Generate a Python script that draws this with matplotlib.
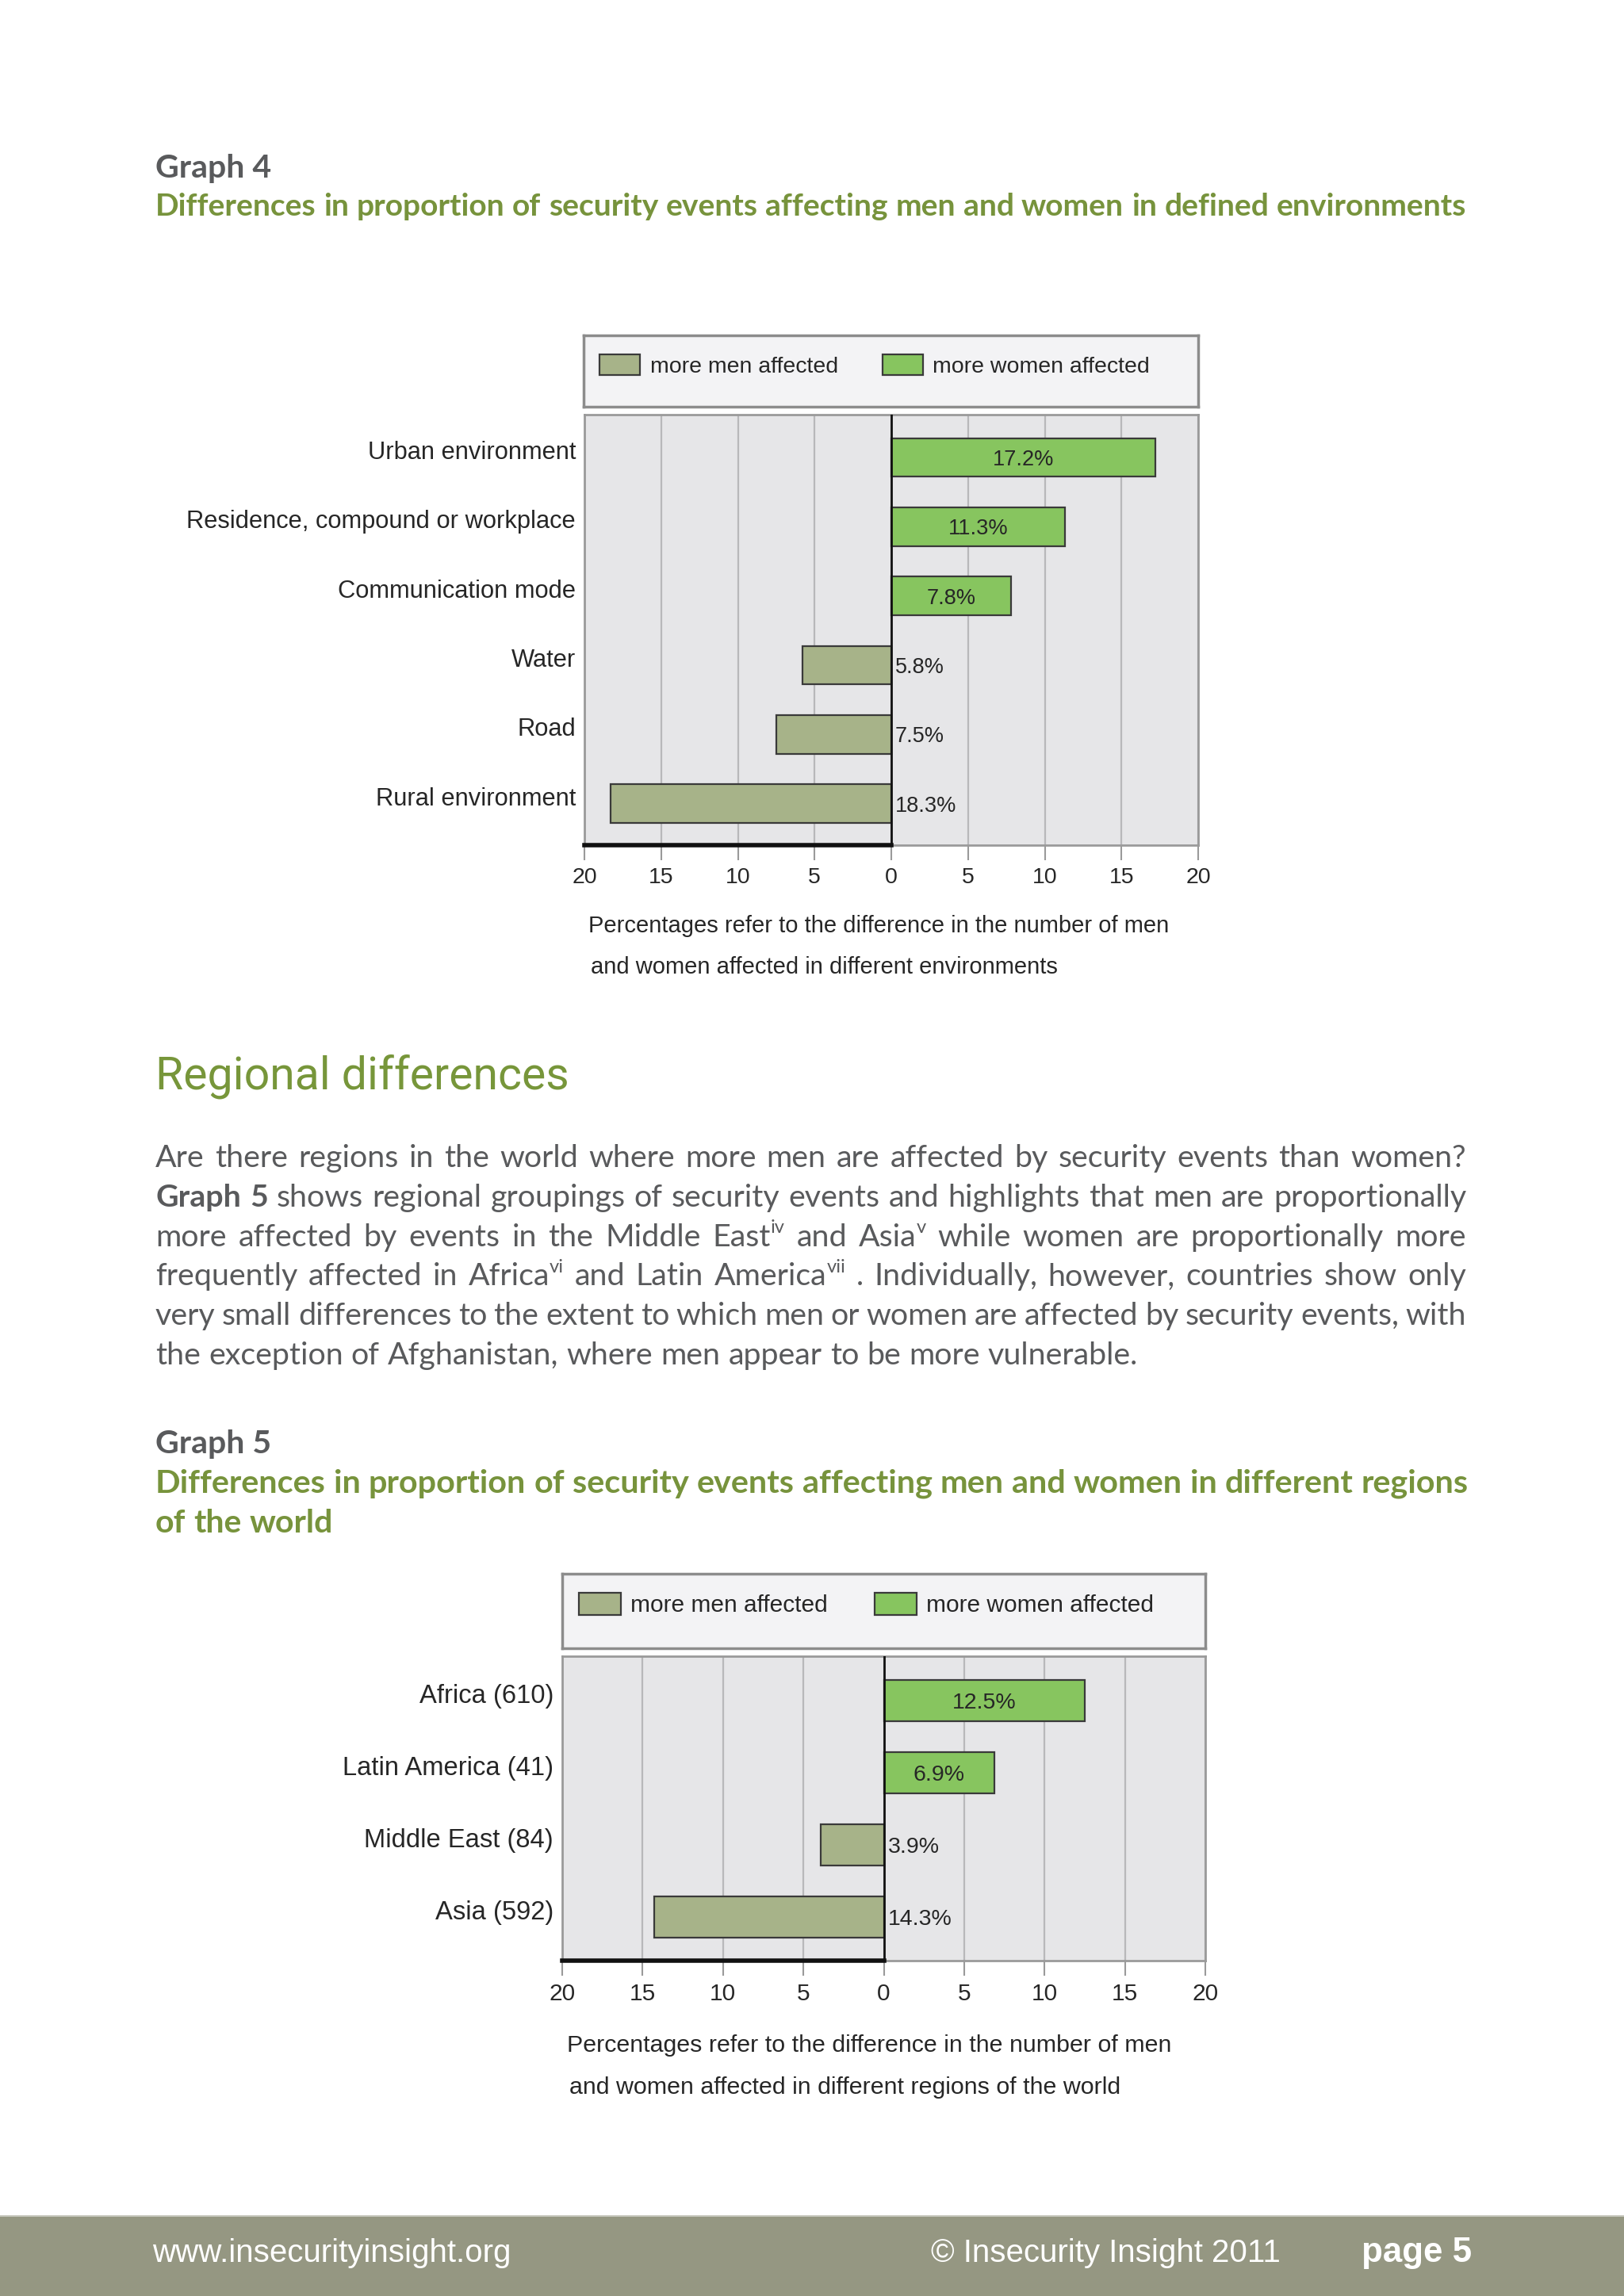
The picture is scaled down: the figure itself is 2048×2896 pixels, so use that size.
import numpy as np
import matplotlib.pyplot as plt
from matplotlib.patches import Patch, Rectangle
from matplotlib.transforms import ScaledTranslation

W, H = 2048, 2896
DPI = 100

# Graph 4 data
env_labels = ['Urban environment', 'Residence, compound or workplace', 'Communication mode',
              'Water', 'Road', 'Rural environment']
env_values = [17.2, 11.3, 7.8, -5.8, -7.5, -18.3]   # + more women, - more men

# Graph 5 data
region_labels = ['Africa (610)', 'Latin America (41)', 'Middle East (84)', 'Asia (592)']
region_values = [12.5, 6.9, -3.9, -14.3]

legend_labels = ['more men affected', 'more women affected']

body_lines = [
    "Are there regions in the world where more men are affected by security events than women?",
    "**Graph** **5** shows regional groupings of security events and highlights that men are proportionally",
    "more affected by events in the Middle East^iv and Asia^v while women are proportionally more",
    "frequently affected in Africa^vi and Latin America^vii . Individually, however, countries show only",
    "very small differences to the extent to which men or women are affected by security events, with",
    "the exception of Afghanistan, where men appear to be more vulnerable.",
]

MEN = '#a7b389'
WOMEN = '#87c55f'
GREEN_TXT = '#77933c'
GREY_TXT = '#595a5c'
CHART_TXT = '#262626'
PAGE_FONT = 'Lato'
CHART_FONT = 'Liberation Sans'

plt.rcParams['font.family'] = CHART_FONT

fig = plt.figure(figsize=(W / DPI, H / DPI), dpi=DPI)
fig.patch.set_facecolor('white')
renderer = fig.canvas.get_renderer()


def fx(x):
    return x / W


def fy(y):
    return 1 - y / H


def shift(dx, dy):
    # offset in output pixels (y down)
    return ScaledTranslation(dx / DPI, -dy / DPI, fig.dpi_scale_trans)


def add_axes_px(left, top, right, bottom):
    return fig.add_axes([fx(left), fy(bottom), (right - left) / W, (bottom - top) / H])


def txt(x, y, s, size, **kw):
    return fig.text(fx(x), fy(y), s, fontsize=size, **kw)


def width_of(t):
    return t.get_window_extent(renderer).width


def fit(x, y, s, width, **kw):
    t = txt(x, y, s, 20, **kw)
    t.set_fontsize(20 * width / width_of(t))
    return t


def size_for(s, width, **kw):
    t = txt(0, 0, s, 20, **kw)
    size = 20 * width / width_of(t)
    t.remove()
    return size


def text_line(line, x0, y, size, width=None, color=GREY_TXT, weight='normal'):
    words = []
    for w in line.split():
        bold = w.startswith('**')
        w = w.strip('*')
        base, _, sup = w.partition('^')
        wt = 'bold' if bold else weight
        parts = [txt(0, y, base, size, family=PAGE_FONT, weight=wt, color=color, va='baseline')]
        if sup:
            parts.append(txt(0, y - size * 0.42 * DPI / 72, sup, size * 0.6, family=PAGE_FONT,
                             weight=wt, color=color, va='baseline'))
        words.append(parts)
    widths = [[width_of(p) for p in parts] for parts in words]
    total = sum(sum(ws) for ws in widths)
    a = txt(0, 0, 'x x', size, family=PAGE_FONT, weight=weight)
    b = txt(0, 0, 'xx', size, family=PAGE_FONT, weight=weight)
    gap = width_of(a) - width_of(b)
    a.remove(); b.remove()
    if width is not None and len(words) > 1:
        gap = (width - total) / (len(words) - 1)
    cur = x0
    for parts, ws in zip(words, widths):
        for p, wp in zip(parts, ws):
            p.set_x(fx(cur))
            cur += wp
        cur += gap


def draw_chart(box, legend_box, labels, values, fs, fs_cat, bar_h, leg_anchor, lg):
    left, top, right, bottom = box
    ax = add_axes_px(left, top, right, bottom)
    ax.set_facecolor('#e6e6e8')
    y = np.arange(len(labels))
    colors = [WOMEN if v > 0 else MEN for v in values]
    ax.barh(y, values, height=bar_h, color=colors, edgecolor='#3a3a3a', linewidth=1.6, zorder=3)
    ax.set_xlim(-20, 20)
    ylim = (len(labels) - 1 + 0.6, -0.62)
    ax.set_ylim(*ylim)
    ticks = np.arange(-20, 21, 5)
    ax.set_xticks(ticks)
    ax.set_xticklabels([str(abs(t)) for t in ticks])
    ax.set_yticks(y)
    ax.set_yticklabels([])
    ax.tick_params(axis='y', length=0)
    ax.tick_params(axis='x', length=14, width=1.5, color='#9a9a9a', pad=6,
                   labelsize=fs, labelcolor=CHART_TXT)
    ax.grid(axis='x', color='#b8b8ba', lw=1.6, zorder=1)
    ax.set_axisbelow(True)
    for s in ax.spines.values():
        s.set_color('#9a9a9a')
        s.set_linewidth(2)
    ax.axvline(0, color='#111111', lw=2, zorder=4)
    ax.axhline(ylim[0], xmin=0, xmax=0.5, color='#111111', lw=4, zorder=5, clip_on=False)
    cat_tr = ax.get_yaxis_transform() + shift(-11, -6)
    for yi, lab in zip(y, labels):
        ax.text(0, yi, lab, transform=cat_tr, ha='right', va='center', fontsize=fs_cat,
                color=CHART_TXT)
    val_tr = ax.transData + shift(0, 3)
    for yi, v in zip(y, values):
        if v > 0:
            ax.text(v / 2, yi, f'{v:.1f}%', transform=val_tr, ha='center', va='center',
                    fontsize=fs - 1, color=CHART_TXT, zorder=6)
        else:
            ax.text(0.25, yi, f'{abs(v):.1f}%', transform=val_tr, ha='left', va='center',
                    fontsize=fs - 1, color=CHART_TXT, zorder=6)

    lax = add_axes_px(*legend_box)
    lax.set_facecolor('#f3f3f5')
    lax.set_xticks([])
    lax.set_yticks([])
    for s in lax.spines.values():
        s.set_color('#8c8c8c')
        s.set_linewidth(2.5)
    handles = [Patch(facecolor=c, edgecolor='#3a3a3a', lw=1.6, label=l)
               for c, l in zip([MEN, WOMEN], legend_labels)]
    leg = lax.legend(handles=handles, loc='upper left',
                     bbox_to_anchor=(fx(leg_anchor[0]), fy(leg_anchor[1])),
                     bbox_transform=fig.transFigure, ncol=2, frameon=False, fontsize=fs,
                     handlelength=lg[0], handleheight=lg[1], handletextpad=lg[2],
                     columnspacing=lg[3], borderpad=0, borderaxespad=0)
    for t in leg.get_texts():
        t.set_color(CHART_TXT)
    return ax


# ---- page headings ----
sub4 = "Differences in proportion of security events affecting men and women in defined environments"
sub5 = "Differences in proportion of security events affecting men and women in different regions"
sub_size = size_for(sub4, 1653, family=PAGE_FONT, weight='bold')
head_size = sub_size * 1.05
txt(196, 224, 'Graph 4', head_size, family=PAGE_FONT, weight='bold', color=GREY_TXT, va='baseline')
text_line(sub4, 196, 272, sub_size, width=1653, color=GREEN_TXT, weight='bold')

# ---- Graph 4 ----
draw_chart((737, 523, 1511, 1066), (736, 423, 1511, 513), env_labels, env_values,
           20.5, 22.2, 0.555, (756, 447), (1.79, 1.05, 0.45, 1.96))
txt(742, 1168, 'Percentages refer to the difference in the number of men', 21,
    color=CHART_TXT, va='center')
txt(745, 1220, 'and women affected in different environments', 21, color=CHART_TXT, va='center')

# ---- Regional differences ----
fit(196, 1373, 'Regional differences', 521, family='Roboto', weight='normal',
    color='#77963a', va='baseline')

body_size = size_for(body_lines[-1], 1243, family=PAGE_FONT)
for i, line in enumerate(body_lines):
    last = i == len(body_lines) - 1
    text_line(line, 196, 1472 + i * 49.8, body_size, width=None if last else 1653)

# ---- Graph 5 headings ----
txt(196, 1833, 'Graph 5', head_size, family=PAGE_FONT, weight='bold', color=GREY_TXT, va='baseline')
sub5_size = size_for(sub5, 1656, family=PAGE_FONT, weight='bold')
text_line(sub5, 196, 1883, sub5_size, width=1656, color=GREEN_TXT, weight='bold')
text_line("of the world", 196, 1933, head_size, color=GREEN_TXT, weight='bold')

# ---- Graph 5 ----
draw_chart((709, 2089, 1520, 2473), (709, 1985, 1520, 2079), region_labels, region_values,
           21.5, 23.6, 0.57, (730, 2009), (1.79, 1.07, 0.4, 1.96))
txt(715, 2580, 'Percentages refer to the difference in the number of men', 21.9,
    color=CHART_TXT, va='center')
txt(718, 2633, 'and women affected in different regions of the world', 21.9,
    color=CHART_TXT, va='center')

# ---- footer ----
fig.patches.append(Rectangle((0, 0), 1, (H - 2794) / H, transform=fig.transFigure,
                             facecolor='#959782', edgecolor='none', zorder=0))
fig.patches.append(Rectangle((0, (H - 2796) / H), 1, 2 / H, transform=fig.transFigure,
                             facecolor='#c9cac0', edgecolor='none', zorder=0))
fit(192, 2842, 'www.insecurityinsight.org', 451, color='white', va='center')
fit(1174, 2842, '\u00a9 Insecurity Insight 2011', 440, color='white', va='center')
fit(1717, 2842, 'page 5', 139, color='white', weight='bold', va='center')

fig.savefig('out.png', dpi=DPI, facecolor='white')
